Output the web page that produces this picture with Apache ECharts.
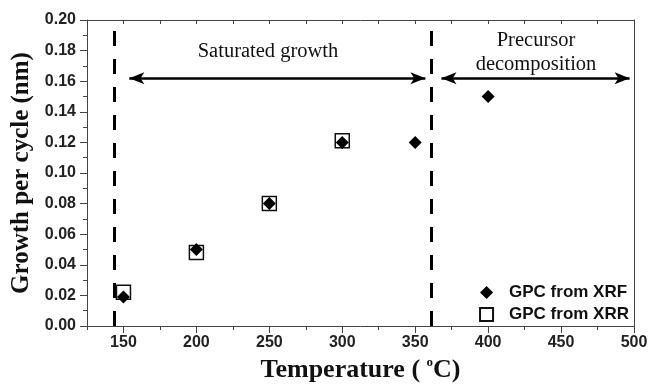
<!DOCTYPE html>
<html><head><meta charset="utf-8">
<script src="https://cdn.jsdelivr.net/npm/echarts@6/dist/echarts.min.js"></script>
<style>html,body{margin:0;padding:0;background:#fff}#c{width:649px;height:384px}</style>
</head><body><div id="c"></div>
<script>
const xrfTemps = [150, 200, 250, 300, 350, 400];
const xrfGpc = [0.019, 0.050, 0.080, 0.120, 0.120, 0.150];
const xrrTemps = [150, 200, 250, 300];
const xrrGpc = [0.022, 0.048, 0.080, 0.121];
const xTickLabels = [150, 200, 250, 300, 350, 400, 450, 500];
const regionBounds = [144, 361];
const saturatedArrow = [154, 357];
const decompArrow = [368, 497];
const arrowY = 0.162;

const chart = echarts.init(document.getElementById('c'));
const tickFont = {fontFamily: 'Liberation Sans', fontWeight: 'bold', fontSize: 16, color: '#222'};
const axisLine = {show: true, lineStyle: {color: '#444', width: 1}};
const arrowStyle = {type: 'solid', width: 2.5, color: '#000'};
chart.setOption({
  animation: false,
  grid: {left: 87, right: 15, top: 20, bottom: 58, outerBoundsMode: 'none', containLabel: false},
  legend: {
    orient: 'vertical', right: 15, bottom: 56, itemGap: 5, itemWidth: 13, itemHeight: 13,
    data: [{name: 'GPC from XRF', icon: 'diamond'}, {name: 'GPC from XRR', icon: 'rect'}],
    textStyle: {fontFamily: 'Liberation Sans', fontWeight: 'bold', fontSize: 17, color: '#111', padding: [0, 0, 0, 11]}
  },
  xAxis: [
    {type: 'value', min: 125, max: 500, interval: 25, position: 'bottom',
     axisLine: axisLine, splitLine: {show: false},
     axisTick: {show: true, length: 7, customValues: xTickLabels, lineStyle: {color: '#444'}},
     axisLabel: Object.assign({customValues: xTickLabels, margin: 9}, tickFont),
     name: 'Temperature ( {sup|o}C)', nameLocation: 'middle', nameGap: 22,
     nameTextStyle: {fontFamily: 'Liberation Serif', fontWeight: 'bold', fontSize: 26, color: '#111',
       rich: {sup: {fontFamily: 'Liberation Serif', fontSize: 13, color: '#111', verticalAlign: 'top', padding: [0, 0, 16, 0]}}}},
    {type: 'value', min: 125, max: 500, interval: 25, position: 'bottom',
     axisLine: {show: false}, splitLine: {show: false}, axisLabel: {show: false},
     axisTick: {show: true, length: 4, lineStyle: {color: '#444'}}},
    {type: 'value', min: 125, max: 500, interval: 25, position: 'top',
     axisLine: axisLine, splitLine: {show: false}, axisLabel: {show: false},
     axisTick: {show: true, inside: true, length: 4, lineStyle: {color: '#444'}}}
  ],
  yAxis: [
    {type: 'value', min: 0, max: 0.2, interval: 0.02, position: 'left',
     axisLine: axisLine, splitLine: {show: false},
     axisTick: {show: true, length: 7, lineStyle: {color: '#444'}},
     minorTick: {show: true, splitNumber: 2, length: 4, lineStyle: {color: '#444'}},
     axisLabel: Object.assign({formatter: v => v.toFixed(2), margin: 11}, tickFont),
     name: 'Growth per cycle (nm)', nameLocation: 'middle', nameGap: 52,
     nameTextStyle: {fontFamily: 'Liberation Serif', fontWeight: 'bold', fontSize: 25, color: '#111'}},
    {type: 'value', min: 0, max: 0.2, interval: 0.02, position: 'right',
     axisLine: axisLine, splitLine: {show: false}, axisTick: {show: false}, axisLabel: {show: false}}
  ],
  series: [
    {name: 'GPC from XRR', type: 'scatter', symbol: 'rect', symbolSize: 14, z: 3,
     itemStyle: {color: 'rgba(255,255,255,0)', borderColor: '#111', borderWidth: 1.5, opacity: 1},
     data: xrrTemps.map((t, i) => [t, xrrGpc[i]])},
    {name: 'GPC from XRF', type: 'scatter', symbol: 'diamond', symbolSize: 13, z: 4,
     itemStyle: {color: '#000', opacity: 1},
     data: xrfTemps.map((t, i) => [t, xrfGpc[i]]),
     markLine: {
       silent: true, symbol: ['none', 'none'], label: {show: false},
       data: [
         ...regionBounds.map(x => ({xAxis: x, lineStyle: {type: [15, 13], width: 3, color: '#000'}})),
         [{coord: [saturatedArrow[0], arrowY], symbol: 'arrow', symbolSize: [9, 15], lineStyle: arrowStyle},
          {coord: [saturatedArrow[1], arrowY], symbol: 'arrow', symbolSize: [9, 15]}],
         [{coord: [decompArrow[0], arrowY], symbol: 'arrow', symbolSize: [9, 15], lineStyle: arrowStyle},
          {coord: [decompArrow[1], arrowY], symbol: 'arrow', symbolSize: [9, 15]}]
       ]
     }}
  ],
  graphic: [
    {type: 'text', x: 268, y: 41, style: {text: 'Saturated growth', font: '20.5px "Liberation Serif"', fill: '#111', align: 'center'}},
    {type: 'text', x: 536, y: 29, style: {text: 'Precursor\ndecomposition', font: '20.5px "Liberation Serif"', fill: '#111', align: 'center', lineHeight: 24}}
  ]
});
</script></body></html>
